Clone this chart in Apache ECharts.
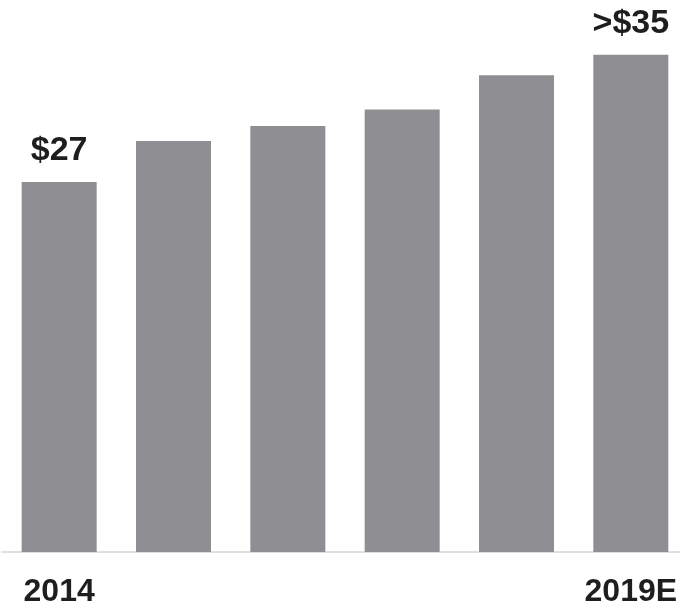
<!DOCTYPE html>
<html><head><meta charset="utf-8">
<style>html,body{margin:0;padding:0;background:#fff}#c{width:680px;height:609px}</style>
<script src="https://cdn.jsdelivr.net/npm/echarts@6/dist/echarts.min.js"></script>
</head><body><div id="c"></div>
<script>
const categories = ['2014', '2015', '2016', '2017', '2018', '2019E'];
const values = [27, 30.0, 31.1, 32.3, 34.8, 36.3];
const barLabels = ['$27', '', '', '', '', '>$35'];
const axisLabels = ['2014', '', '', '', '', '2019E'];

const chart = echarts.init(document.getElementById('c'));
chart.setOption({
  animation: false,
  grid: { left: 2, width: 686, top: 4, bottom: 57, outerBoundsMode: 'none', containLabel: false },
  xAxis: {
    type: 'category',
    data: categories,
    axisLine: { show: true, lineStyle: { color: '#e0e0e0', width: 2 } },
    axisTick: { show: false },
    axisLabel: {
      interval: 0,
      margin: 24,
      fontSize: 32,
      fontWeight: 'bold',
      fontFamily: 'Liberation Sans, Arial, sans-serif',
      color: '#1e1e1e',
      formatter: (v, i) => axisLabels[i]
    }
  },
  yAxis: { type: 'value', min: 0, max: 40, show: false, splitLine: { show: false } },
  series: [{
    type: 'bar',
    data: values,
    barWidth: '65.6%',
    itemStyle: { color: '#8f8f93' },
    label: {
      show: true,
      position: 'top',
      distance: 14,
      fontSize: 34,
      fontWeight: 'bold',
      fontFamily: 'Liberation Sans, Arial, sans-serif',
      color: '#1e1e1e',
      formatter: p => barLabels[p.dataIndex]
    }
  }]
});
</script></body></html>
